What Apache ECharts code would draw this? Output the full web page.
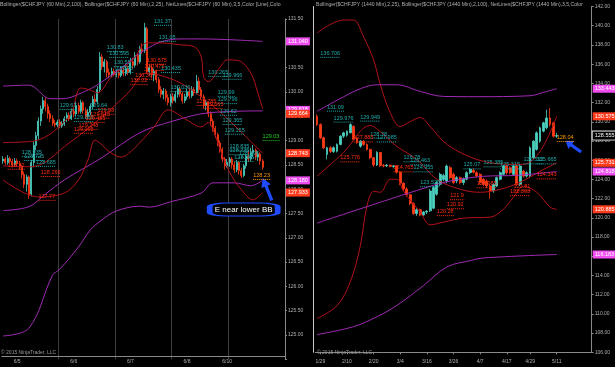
<!DOCTYPE html>
<html><head><meta charset="utf-8">
<script src="https://cdn.jsdelivr.net/npm/echarts@6/dist/echarts.min.js"></script>
<style>html,body{margin:0;padding:0;background:#000;}#c{width:615px;height:367px;}</style>
</head><body><div id="c"></div>
<script>
// ---------- LEFT PANEL (60 Min) ----------
const leftTitle = 'Bollinger($CHFJPY (60 Min),2,100), Bollinger($CHFJPY (60 Min),2,25), NetLines($CHFJPY (60 Min),3,5,Color [Line],Colo';
const leftTickLabels = ['6/5','6/6','6/7','6/8','6/10'];
const leftTickIndex = [6, 30, 54, 78, 95];
const leftDayBreaks = [24, 48, 72, 96];
// [open, close, low, high]
const leftCandles = [
[128.58,128.62,128.52,128.68],[128.62,128.55,128.50,128.66],[128.55,128.63,128.50,128.70],[128.63,128.57,128.52,128.67],
[128.57,128.50,128.45,128.62],[128.50,128.58,128.46,128.64],[128.58,128.52,128.47,128.63],[128.52,128.45,128.40,128.58],
[128.45,128.30,128.22,128.50],[128.30,128.10,128.02,128.36],[128.10,128.25,127.95,128.30],[128.25,127.88,127.80,128.28],
[127.90,128.55,127.85,128.60],[128.55,128.90,128.45,128.98],[128.90,129.10,128.80,129.18],[129.10,129.40,129.02,129.48],
[129.40,129.65,129.30,129.72],[129.65,129.82,129.55,129.90],[129.82,129.70,129.60,129.88],[129.70,129.55,129.45,129.76],
[129.55,129.45,129.38,129.62],[129.45,129.35,129.30,129.52],[129.35,129.32,129.27,129.42],[129.32,129.38,129.27,129.43],
[129.38,129.30,129.25,129.44],[129.30,129.34,129.26,129.40],[129.34,129.45,129.30,129.50],[129.45,129.52,129.38,129.58],
[129.52,129.45,129.40,129.58],[129.45,129.60,129.42,129.66],[129.60,129.55,129.48,129.66],[129.55,129.72,129.50,129.80],
[129.72,129.60,129.55,129.78],[129.60,129.78,129.55,129.84],[129.78,129.62,129.55,129.82],[129.62,129.50,129.45,129.68],
[129.50,129.58,129.45,129.65],[129.58,129.70,129.52,129.76],[129.70,129.85,129.65,129.92],[129.85,129.80,129.74,129.95],
[129.80,130.05,129.76,130.12],[130.05,130.72,130.00,130.82],[130.72,130.52,130.45,130.78],[130.52,130.62,130.40,130.68],
[130.62,130.40,130.30,130.66],[130.40,130.35,130.28,130.48],[130.35,130.42,130.30,130.50],[130.42,130.36,130.32,130.48],
[130.36,130.40,130.30,130.46],[130.40,130.34,130.28,130.45],[130.34,130.45,130.30,130.52],[130.45,130.38,130.32,130.50],
[130.38,130.48,130.33,130.55],[130.48,130.40,130.35,130.54],[130.40,130.62,130.36,130.70],[130.62,130.55,130.48,130.70],
[130.55,130.75,130.50,130.82],[130.75,130.62,130.55,130.80],[130.62,130.88,130.58,130.95],[130.88,130.85,130.78,131.00],
[130.85,131.32,130.80,131.42],[131.30,130.42,130.38,131.34],[130.42,130.50,130.34,130.56],[130.50,130.35,130.28,130.55],
[130.35,130.42,130.22,130.48],[130.42,130.25,130.18,130.46],[130.25,130.05,129.98,130.30],[130.05,129.95,129.88,130.12],
[129.95,130.02,129.85,130.08],[130.02,129.88,129.80,130.06],[129.88,129.78,129.72,129.95],[129.78,129.90,129.70,129.96],
[129.90,129.82,129.76,129.98],[129.82,129.95,129.78,130.02],[129.95,130.06,129.88,130.12],[130.06,129.96,129.90,130.10],
[129.96,129.82,129.76,130.00],[129.82,129.90,129.77,129.96],[129.90,130.00,129.84,130.06],[130.00,129.92,129.86,130.08],
[129.92,130.05,129.88,130.12],[130.05,129.98,129.92,130.10],[129.98,130.22,129.95,130.35],[130.22,130.05,129.98,130.30],
[130.05,129.90,129.84,130.10],[129.90,129.72,129.66,129.95],[129.72,129.78,129.62,129.84],[129.78,129.55,129.48,129.80],
[129.55,129.40,129.30,129.60],[129.40,129.25,129.18,129.45],[129.25,129.12,129.05,129.30],[129.12,128.95,128.88,129.16],
[128.95,128.82,128.75,129.00],[128.82,128.62,128.55,128.86],[128.62,128.48,128.40,128.66],[128.48,128.55,128.44,128.62],
[128.55,128.62,128.46,128.66],[128.62,128.50,128.42,128.66],[128.50,128.40,128.33,128.56],[128.40,128.55,128.35,128.60],
[128.55,128.38,128.30,128.58],[128.38,128.28,128.23,128.44],[128.28,128.48,128.25,128.52],[128.48,128.68,128.42,128.72],
[128.68,128.62,128.56,128.80],[128.62,128.75,128.58,128.85],[128.75,128.80,128.66,128.91],[128.80,128.66,128.60,128.84],
[128.66,128.72,128.58,128.78],[128.72,128.58,128.50,128.76],[128.58,128.45,128.40,128.62]
];
// Bollinger (2,100) - purple ; [bar index, value]
const leftUpper100 = [[0,130.12],[11,130.14],[20,129.86],[25,129.86],[36,130.04],[42,130.21],[50,130.49],[57,130.76],[60,130.86],[67,131.03],[75,131.09],[84,131.09],[98,131.07],[110,131.04]];
const leftMid100 = [[0,127.56],[11,127.64],[18,127.90],[26,128.19],[42,128.65],[58,129.16],[72,129.40],[87,129.57],[110,129.61]];
const leftLower100 = [[0,124.98],[11,125.14],[21,126.23],[24,126.35],[32,126.81],[37,127.16],[42,127.37],[48,127.55],[58,127.65],[62,127.63],[71,127.74],[84,127.92],[89,128.13],[98,128.13],[105,128.07],[110,128.18]];
// Bollinger (2,25) - red
const leftUpper25 = [[0,128.96],[13,128.99],[28,129.49],[33,130.08],[37,130.04],[40,129.98],[46,130.31],[55,130.66],[61,131.01],[66,131.01],[75,130.97],[81,130.93],[84,130.72],[85,130.31],[87,130.21],[92,130.51],[95,130.66],[100,130.64],[105,130.39],[108,129.98],[110,129.66]];
const leftMid25 = [[0,128.48],[12,128.46],[28,128.95],[42,129.49],[53,129.98],[61,130.39],[66,130.35],[75,130.19],[84,129.90],[91,129.63],[100,129.22],[110,128.74]];
const leftLower25 = [[0,128.19],[15,127.84],[26,127.92],[32,128.19],[36,128.60],[39,129.01],[42,128.91],[45,128.77],[50,128.66],[55,128.81],[64,129.28],[70,129.63],[78,129.42],[84,129.28],[87,129.37],[89,129.23],[92,128.82],[96,128.35],[101,127.99],[106,127.78],[110,127.93]];
// NetLines labels [bar index, value, text]
const leftCyanLabels = [[64,131.38,'131.37'],[66,131.05,'131.05'],[44,130.84,'130.83'],[45,130.72,'130.595'],[47,130.53,'130.55'],[48,130.41,'130.46'],[67,130.41,'130.435'],[24,129.65,'129.67'],[37,129.65,'129.64'],[30,129.40,'129.388'],[71,130.02,'130.036'],[87,130.33,'130.265'],[93,130.27,'129.966'],[91,129.92,'129.99'],[91,129.77,'129.796'],[92,129.53,'129.62'],[93,129.34,'129.365'],[94,129.14,'129.155'],[96,128.81,'128.835'],[96,128.72,'128.735'],[100,128.66,'128.695'],[98,128.58,'128.665'],[8,128.68,'128.935'],[9,128.60,'128.725'],[14,128.48,'128.685']];
const leftRedLabels = [[61,130.58,'130.575'],[60,130.45,'130.475'],[56,130.27,'130.36'],[54,130.16,'130.22'],[40,129.55,'129.58'],[37,129.47,'129.515'],[35,129.38,'129.455'],[32,129.24,'129.248'],[30,129.16,'129.195'],[82,129.73,'129.785'],[85,129.67,'129.665'],[2,128.42,'128.72'],[16,128.27,'128.266'],[15,127.78,'127.77']];
const leftGreenLabels = [[110,129.01,'129.03']];
const leftOrangeLabels = [[106,128.21,'128.23']];
// price markers [value, text, kind]
const leftMarkers = [[131.04,'131.040','pink'],[129.63,'129.618','pink'],[129.55,'129.664','red'],[128.743,'128.743','red'],[128.18,'128.180','pink'],[127.933,'127.933','red']];

// ---------- RIGHT PANEL (1440 Min) ----------
const rightTitle = 'Bollinger($CHFJPY (1440 Min),2,25), Bollinger($CHFJPY (1440 Min),2,100), NetLines($CHFJPY (1440 Min),3,5,Color';
const rightTickLabels = ['1/29','2/10','2/20','3/4','3/16','3/26','4/7','4/17','4/29','5/11'];
const rightTickIndex = [1, 9, 17, 25, 33, 41, 49, 57, 64, 72];
const rightCandles = [
[130.57,129.71,129.55,130.75],[129.71,128.33,128.20,129.85],[128.33,127.29,127.15,128.45],[126.60,127.29,126.08,127.40],
[127.29,126.90,126.75,127.45],[126.90,127.30,126.75,127.45],[126.94,127.64,126.80,127.75],[127.64,128.50,127.55,128.60],
[128.50,128.85,128.30,128.95],[128.60,129.02,128.45,129.10],[128.85,129.71,128.80,129.85],[129.53,128.16,128.05,129.60],
[128.33,127.81,127.70,128.40],[127.46,127.98,127.30,128.10],[127.98,127.64,127.50,128.10],[127.64,127.12,127.00,127.75],
[127.12,126.26,126.10,127.20],[126.26,125.50,125.30,126.35],[125.50,126.80,125.40,126.94],[126.80,125.45,125.30,126.85],
[125.45,125.40,125.25,125.60],[125.40,125.48,125.30,125.60],[125.48,125.35,125.25,125.55],[125.35,125.40,125.20,125.50],
[125.40,124.75,124.60,125.50],[124.75,123.60,123.40,124.85],[123.60,123.00,122.80,123.70],[123.00,122.40,122.20,123.20],
[122.40,121.50,121.30,122.50],[121.50,120.45,120.30,121.60],[120.45,120.85,120.20,121.00],[120.85,120.30,120.15,120.95],
[120.30,120.60,120.20,120.70],[120.60,120.70,120.40,120.80],[120.73,122.80,120.60,123.00],[121.00,123.15,120.90,123.30],
[122.46,123.67,122.30,123.80],[123.49,124.53,123.30,124.70],[124.00,124.40,123.80,124.60],[123.83,125.39,123.60,125.55],
[125.22,124.18,124.00,125.40],[124.53,123.67,123.50,124.70],[123.83,124.18,123.60,124.35],[124.18,123.67,123.50,124.30],
[123.67,124.01,123.40,124.20],[124.01,124.70,123.90,124.85],[124.70,125.05,124.55,125.20],[124.95,124.75,124.60,125.15],
[124.70,124.35,124.20,124.85],[124.53,123.67,123.50,124.65],[124.01,123.49,123.30,124.15],[123.83,123.32,123.10,124.00],
[123.32,122.80,122.00,123.45],[122.80,123.49,122.60,123.60],[123.32,124.18,123.20,124.30],[124.01,124.70,123.90,124.85],
[124.53,125.39,124.40,125.50],[125.39,124.70,124.50,125.55],[125.22,124.70,124.55,125.35],[124.53,125.39,124.40,125.55],
[125.39,123.49,123.32,125.60],[123.49,125.39,123.30,125.55],[124.87,124.35,124.20,125.00],[124.35,124.70,124.20,124.85],
[124.35,127.29,124.20,127.45],[126.26,127.98,126.10,128.10],[127.12,128.85,127.00,129.00],[127.98,129.37,127.80,129.50],
[129.02,129.89,128.90,130.00],[129.37,130.40,129.20,131.26],[130.40,129.71,129.50,131.44],[129.89,128.50,128.35,130.00],
[128.50,128.56,128.33,128.85]
];
const rightUpper25 = [[0,139.24],[8,140.59],[11,140.59],[14,138.83],[17,136.45],[19,133.9],[22,130.95],[25,129.50],[28,130.02],[31,130.44],[34,129.50],[38,127.95],[43,126.81],[50,125.88],[58,125.57],[62,125.57],[67,126.91],[72,130.575]];
const rightMid25 = [[0,124.32],[8,126.81],[16,129.61],[19,128.98],[24,127.43],[30,126.08],[36,124.01],[43,122.97],[49,122.66],[55,122.97],[61,123.70],[67,124.84],[72,125.731]];
const rightLower25 = [[0,109.51],[6,110.85],[10,113.33],[13,117.06],[15,121.21],[17,122.76],[19,122.66],[22,124.01],[24,124.01],[26,122.76],[31,120.59],[34,119.27],[38,119.55],[44,119.97],[52,120.07],[56,120.90],[59,122.14],[62,123.28],[66,122.66],[70,121.11],[72,120.885]];
const rightUpper100 = [[0,131.09],[8,132.60],[13,133.44],[18,133.85],[24,133.85],[31,133.16],[38,132.64],[48,132.61],[64,132.71],[68,133.06],[72,133.443]];
const rightMid100 = [[0,119.45],[31,122.96],[40,123.83],[50,124.32],[60,124.42],[72,124.818]];
const rightLower100 = [[0,107.84],[11,108.67],[18,109.70],[24,110.88],[32,112.95],[39,114.89],[46,115.54],[50,115.82],[72,116.183]];
const rightCyanLabels = [[1,136.76,'136.706'],[3,131.16,'131.09'],[5,130.02,'129.976'],[13,130.12,'129.949'],[16,128.36,'128.78'],[18,127.95,'127.985'],[26,125.88,'126.78'],[28,125.57,'126.463'],[29,124.84,'124.955'],[31,123.29,'123.525'],[44,125.15,'125.07'],[50,125.36,'125.385'],[55,125.15,'125.315'],[62,125.67,'126.555'],[66,125.67,'125.665']];
const rightRedLabels = [[11,127.95,'127.885'],[7,125.88,'125.776'],[23,124.84,'124.765'],[40,121.94,'121.9'],[39,121.00,'120.92'],[36,120.28,'120.28'],[48,123.18,'122.985'],[59,122.87,'122.81'],[58,122.36,'122.393'],[66,124.11,'124.343']];
const rightOrangeLabels = [[72,128.00,'128.04']];
const rightMarkers = [[133.443,'133.443','pink'],[130.575,'130.575','red'],[128.555,'128.555','last'],[125.731,'125.731','red'],[124.818,'124.818','pink'],[120.885,'120.885','red'],[116.183,'116.183','pink']];

// ---------- styles ----------
const FONT = '"Liberation Sans", Arial, sans-serif';
const UP = '#4cd0c0', DOWN = '#ff3b18', PURPLE = '#a22ab6', DARKRED = '#b3121a';
const CYAN = '#1fa9a9', LRED = '#ff2d10', GREEN = '#1fd01f', ORANGE = '#ff9a00';
const markerStyle = {
  pink: {backgroundColor: '#f04ef0', color: '#fff'},
  red: {backgroundColor: '#ff3b1e', color: '#fff'},
  last: {backgroundColor: '#000', color: '#fff', borderColor: '#ddd', borderWidth: 1}
};
const arrowPath = 'path://M5,0 L10,8 L6.6,8 L6.6,22 L3.4,22 L3.4,8 L0,8 Z';

const leftCats = Array.from({length: 120}, (_, i) => { const j = leftTickIndex.indexOf(i); return j >= 0 ? leftTickLabels[j] : ''; });
const rightCats = Array.from({length: 83}, (_, i) => { const j = rightTickIndex.indexOf(i); return j >= 0 ? rightTickLabels[j] : ''; });

function band(data, color, xi) {
  return {type: 'line', xAxisIndex: xi, yAxisIndex: xi, data: data, smooth: 0.35, symbol: 'none', showSymbol: false,
    lineStyle: {color: color, width: 1}, z: 3, silent: true};
}
function labels(items, color, xi) {
  return {type: 'custom', coordinateSystem: 'cartesian2d', xAxisIndex: xi, yAxisIndex: xi, z: 6, silent: true,
    data: items.map(d => [d[0], d[1]]),
    renderItem: function (params, api) {
      const p = api.coord([api.value(0), api.value(1)]);
      const t = items[params.dataIndex][2];
      const w = t.length * 2.85;
      return {type: 'group', children: [
        {type: 'text', style: {text: t, x: p[0], y: p[1] - 0.5, fill: color, font: '5.5px ' + FONT, align: 'left', verticalAlign: 'bottom'}},
        {type: 'line', shape: {x1: p[0], y1: p[1] + 0.5, x2: p[0] + w, y2: p[1] + 0.5}, style: {stroke: color, lineWidth: 1, lineDash: [1, 1]}}
      ]};
    }};
}
function markers(list) {
  return {silent: true, symbol: ['none', 'none'], z: 10,
    lineStyle: {color: 'rgba(0,0,0,0)', width: 1, opacity: 1, type: 'solid'},
    emphasis: {disabled: true},
    data: list.map(m => ({yAxis: m[0], label: Object.assign({show: true, position: 'end', formatter: m[1], fontSize: 5.5,
      fontFamily: FONT, padding: [1, 2, 1, 2], distance: 1, opacity: 1}, markerStyle[m[2]])}))};
}
function yAx(gi, min, max, interval) {
  return {type: 'value', gridIndex: gi, position: 'right', min: min, max: max, interval: interval, scale: true,
    axisLine: {show: true, lineStyle: {color: '#8a8a8a'}},
    axisTick: {show: true, length: 2, lineStyle: {color: '#8a8a8a'}},
    axisLabel: {fontSize: 5, color: '#b0b0b0', fontFamily: FONT, margin: 3,
      formatter: v => (v <= min && gi === 0) ? '' : v.toFixed(2)},
    splitLine: {show: false}};
}

const chart = echarts.init(document.getElementById('c'), null, {renderer: 'canvas'});
chart.setOption({
  animation: false,
  backgroundColor: '#000',
  grid: [
    {left: 0, top: 19, width: 285, height: 340.3},
    {left: 315.3, top: 6.5, width: 276.4, height: 345.8}
  ],
  xAxis: [
    {type: 'category', gridIndex: 0, data: leftCats, boundaryGap: true, offset: -3,
      axisLine: {show: true, lineStyle: {color: '#8a8a8a'}}, axisTick: {show: false},
      axisLabel: {interval: 0, fontSize: 5, color: '#b0b0b0', fontFamily: FONT, margin: 3},
      splitLine: {show: true, interval: (i) => leftDayBreaks.indexOf(i) >= 0, lineStyle: {color: '#3c3c3c', width: 1}}},
    {type: 'category', gridIndex: 1, data: rightCats, boundaryGap: true, offset: 4,
      axisLine: {show: true, lineStyle: {color: '#8a8a8a'}},
      axisTick: {show: true, alignWithLabel: true, length: 2, interval: (i) => rightTickIndex.indexOf(i) >= 0, lineStyle: {color: '#8a8a8a'}},
      axisLabel: {interval: 0, fontSize: 5, color: '#b0b0b0', fontFamily: FONT, margin: 3},
      splitLine: {show: false}}
  ],
  yAxis: [
    yAx(0, 124.5, 131.5, 0.5),
    yAx(1, 106, 142, 2),
    {type: 'value', gridIndex: 1, position: 'left', offset: 2, min: 0, max: 1,
      axisLine: {show: true, lineStyle: {color: '#c8c8c8'}}, axisTick: {show: false}, axisLabel: {show: false}, splitLine: {show: false}}
  ],
  graphic: [
    {type: 'text', left: 0, top: 2, z: 20, style: {text: leftTitle, fill: '#b0b0b0', font: '5.2px ' + FONT}},
    {type: 'text', left: 316, top: 2, z: 20, style: {text: rightTitle, fill: '#b0b0b0', font: '5.1px ' + FONT}},
    {type: 'text', left: 1, top: 350, z: 20, style: {text: '\u00a9 2015 NinjaTrader, LLC', fill: '#9a9a9a', font: '5px ' + FONT}},
    {type: 'text', left: 317, top: 350, z: 20, style: {text: '\u00a9 2015 NinjaTrader, LLC', fill: '#9a9a9a', font: '5px ' + FONT}}
  ],
  series: [
    {type: 'candlestick', xAxisIndex: 0, yAxisIndex: 0, data: leftCandles, barWidth: 1.5, z: 2,
      itemStyle: {color: UP, color0: DOWN, borderColor: UP, borderColor0: DOWN, borderWidth: 0.8},
      markLine: markers(leftMarkers),
      markPoint: {silent: true, data: [
        {coord: [102, 127.58], symbol: 'roundRect', symbolSize: [68, 13],
          itemStyle: {color: '#000', borderColor: '#1f4bff', borderWidth: 2.5},
          label: {show: true, position: 'inside', formatter: 'E near lower BB', color: '#fff', fontSize: 8, fontFamily: FONT}},
        {coord: [112, 128.0], symbol: arrowPath, symbolSize: [10, 24], symbolRotate: 22,
          itemStyle: {color: '#1f4bff'}, label: {show: false}}
      ]}},
    band(leftUpper100, PURPLE, 0), band(leftMid100, PURPLE, 0), band(leftLower100, PURPLE, 0),
    band(leftUpper25, DARKRED, 0), band(leftMid25, DARKRED, 0), band(leftLower25, DARKRED, 0),
    labels(leftCyanLabels, CYAN, 0), labels(leftRedLabels, LRED, 0), labels(leftGreenLabels, GREEN, 0), labels(leftOrangeLabels, ORANGE, 0),

    {type: 'candlestick', xAxisIndex: 1, yAxisIndex: 1, data: rightCandles, barWidth: 2.3, z: 2,
      itemStyle: {color: UP, color0: DOWN, borderColor: UP, borderColor0: DOWN, borderWidth: 0.8},
      markLine: markers(rightMarkers),
      markPoint: {silent: true, data: [
        {coord: [77, 127.43], symbol: arrowPath, symbolSize: [10, 19], symbolRotate: 54,
          itemStyle: {color: '#1f4bff'}, label: {show: false}}
      ]}},
    band(rightUpper25, DARKRED, 1), band(rightMid25, DARKRED, 1), band(rightLower25, DARKRED, 1),
    band(rightUpper100, PURPLE, 1), band(rightMid100, PURPLE, 1), band(rightLower100, PURPLE, 1),
    labels(rightCyanLabels, CYAN, 1), labels(rightRedLabels, LRED, 1), labels(rightOrangeLabels, ORANGE, 1)
  ]
});
</script></body></html>
